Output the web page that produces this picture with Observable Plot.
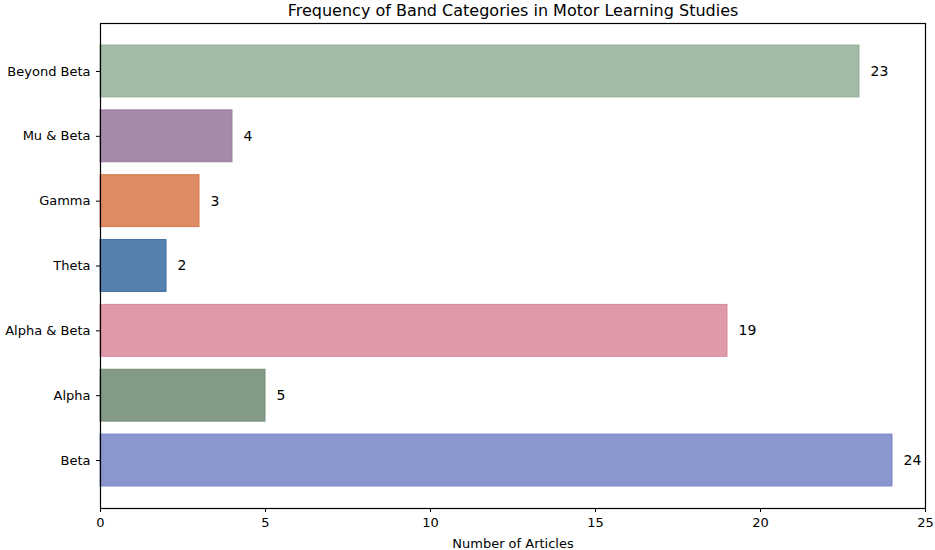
<!DOCTYPE html>
<html>
<head>
<meta charset="utf-8">
<script src="https://cdn.jsdelivr.net/npm/d3@7"></script>
<script src="https://cdn.jsdelivr.net/npm/@observablehq/plot@0.6"></script>
<style>
  body { margin: 0; background: #fff; }
  svg { font-family: "DejaVu Sans", sans-serif; }
</style>
</head>
<body>
<div id="chart"></div>
<script>
const categories = ["Beyond Beta", "Mu & Beta", "Gamma", "Theta", "Alpha & Beta", "Alpha", "Beta"];
const counts = [23, 4, 3, 2, 19, 5, 24];
const fills = ["#a2baa6", "#a48ba9", "#de8a62", "#5680ad", "#df9aaa", "#829a86", "#8a96cd"];
const strokes = ["#8fae95", "#9a7ea0", "#d8794c", "#3f6fa3", "#d98799", "#738e78", "#7584c8"];
const xTicks = [0, 5, 10, 15, 20, 25];
const title = "Frequency of Band Categories in Motor Learning Studies";
const xLabel = "Number of Articles";

const data = categories.map((c, i) => ({category: c, count: counts[i], fill: fills[i], stroke: strokes[i]}));

const chart = Plot.plot({
  width: 935,
  height: 550,
  marginLeft: 100,
  marginRight: 10,
  marginTop: 23,
  marginBottom: 42,
  style: {fontFamily: "DejaVu Sans, sans-serif", fontSize: "13px", color: "#000", background: "#fff"},
  x: {domain: [0, 25], ticks: xTicks, label: null},
  y: {domain: categories, paddingInner: 0.2, paddingOuter: 0.34, align: 0.5, round: false, label: null},
  marks: [
    Plot.barX(data, {x: "count", y: "category", fill: d => d.fill, stroke: d => d.stroke, strokeWidth: 1}),
    Plot.text(data, {x: "count", y: "category", text: d => String(d.count), textAnchor: "start", dx: 11, fontSize: 14, fill: "#000"}),
    Plot.frame({stroke: "#000", strokeWidth: 1.2}),
    Plot.axisX({ticks: xTicks, tickSize: 4, tickPadding: 5, fontSize: 13, label: null}),
    Plot.axisY({tickSize: 4, tickPadding: 6, fontSize: 13, label: null}),
    Plot.text([title], {frameAnchor: "top", lineAnchor: "middle", dy: -13, fontSize: 16, fill: "#000"}),
    Plot.text([xLabel], {frameAnchor: "bottom", lineAnchor: "middle", dy: 35, fontSize: 13, fill: "#000"})
  ]
});
document.getElementById("chart").appendChild(chart);
</script>
</body>
</html>
